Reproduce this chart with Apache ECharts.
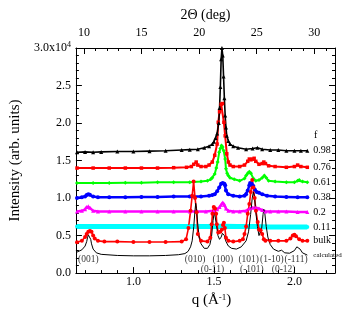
<!DOCTYPE html>
<html><head><meta charset="utf-8">
<script src="https://cdn.jsdelivr.net/npm/echarts@6/dist/echarts.min.js"></script>
<style>html,body{margin:0;padding:0;background:#fff}#c{width:346px;height:313px}</style>
</head><body><div id="c"></div>
<script>
// ---- tick values ----
const qMajor = [1.0, 1.5, 2.0];
const qMinor = [0.7,0.8,0.9,1.1,1.2,1.3,1.4,1.6,1.7,1.8,1.9,2.1,2.2];
const degMajor = [10, 15, 20, 25, 30];
const degMinor = [11,12,13,14,16,17,18,19,21,22,23,24,26,27,28,29,31];

// ---- f = 0.98 ----
const q098 = [0.65,0.70,0.75,0.80,0.90,1.00,1.10,1.20,1.30,1.35,1.40,1.44,1.47,1.49,1.50,1.51,1.52,1.53,1.535,1.54,1.545,1.55,1.555,1.56,1.565,1.57,1.575,1.58,1.59,1.60,1.62,1.65,1.70,1.74,1.77,1.80,1.85,1.90,1.95,2.00,2.04,2.08];
const i098 = [1.61,1.615,1.61,1.615,1.62,1.62,1.625,1.63,1.64,1.645,1.65,1.67,1.69,1.72,1.75,1.80,1.86,2.00,2.20,2.48,2.85,3.00,2.90,2.62,2.33,2.10,1.94,1.83,1.76,1.72,1.69,1.67,1.65,1.66,1.67,1.65,1.64,1.64,1.63,1.63,1.63,1.63];
// ---- f = 0.76 ----
const q076 = [0.65,0.75,0.85,0.95,1.05,1.15,1.25,1.33,1.36,1.375,1.39,1.40,1.42,1.45,1.47,1.49,1.505,1.52,1.527,1.535,1.545,1.553,1.562,1.57,1.58,1.59,1.60,1.62,1.66,1.69,1.71,1.72,1.73,1.74,1.75,1.76,1.78,1.80,1.81,1.82,1.84,1.88,1.95,2.00,2.02,2.04,2.08];
const i076 = [1.40,1.40,1.40,1.40,1.40,1.40,1.405,1.41,1.42,1.45,1.48,1.44,1.42,1.42,1.44,1.48,1.57,1.72,2.01,2.15,2.25,2.26,2.01,1.83,1.59,1.48,1.44,1.42,1.42,1.44,1.49,1.52,1.51,1.52,1.53,1.49,1.45,1.46,1.48,1.46,1.43,1.42,1.41,1.42,1.44,1.42,1.41];
// ---- f = 0.61 ----
const q061 = [0.65,0.75,0.85,0.95,1.05,1.15,1.25,1.35,1.42,1.46,1.48,1.49,1.505,1.515,1.523,1.533,1.54,1.547,1.554,1.561,1.57,1.575,1.582,1.589,1.60,1.626,1.66,1.69,1.70,1.71,1.72,1.73,1.745,1.76,1.78,1.80,1.813,1.825,1.84,1.88,1.95,2.00,2.02,2.03,2.05,2.08];
const i061 = [1.20,1.20,1.20,1.205,1.205,1.21,1.21,1.21,1.22,1.23,1.25,1.27,1.32,1.40,1.48,1.61,1.66,1.70,1.68,1.63,1.52,1.39,1.33,1.30,1.27,1.25,1.23,1.26,1.30,1.33,1.35,1.33,1.26,1.23,1.24,1.27,1.30,1.27,1.23,1.22,1.21,1.21,1.23,1.24,1.22,1.21];
// ---- f = 0.38 ----
const q038 = [0.65,0.68,0.70,0.71,0.72,0.73,0.75,0.78,0.85,0.95,1.05,1.15,1.25,1.35,1.42,1.47,1.49,1.505,1.52,1.533,1.545,1.555,1.565,1.57,1.575,1.589,1.62,1.66,1.69,1.70,1.71,1.72,1.725,1.735,1.745,1.755,1.766,1.78,1.80,1.83,1.88,1.95,2.02,2.08];
const i038 = [1.00,1.01,1.02,1.04,1.05,1.045,1.02,1.01,1.01,1.01,1.015,1.015,1.02,1.02,1.02,1.03,1.04,1.05,1.09,1.14,1.19,1.20,1.19,1.17,1.10,1.05,1.03,1.02,1.03,1.05,1.10,1.17,1.20,1.19,1.16,1.11,1.08,1.07,1.05,1.03,1.02,1.015,1.01,1.01];
// ---- f = 0.2 ----
const q020 = [0.65,0.68,0.70,0.71,0.72,0.73,0.75,0.78,0.85,0.95,1.05,1.15,1.25,1.35,1.45,1.50,1.52,1.535,1.545,1.555,1.565,1.575,1.59,1.62,1.66,1.70,1.72,1.74,1.76,1.78,1.80,1.82,1.85,1.90,1.95,2.02,2.08];
const i020 = [0.82,0.83,0.85,0.88,0.89,0.87,0.83,0.82,0.82,0.82,0.82,0.82,0.82,0.82,0.82,0.83,0.85,0.88,0.91,0.94,0.91,0.86,0.83,0.82,0.82,0.83,0.86,0.87,0.87,0.86,0.84,0.82,0.82,0.82,0.82,0.815,0.815];
// ---- f = 0.11 ----
const q011 = [0.65,0.75,0.85,0.95,1.05,1.15,1.25,1.35,1.45,1.55,1.65,1.75,1.85,1.95,2.08];
const i011 = [0.62,0.62,0.62,0.62,0.62,0.62,0.62,0.62,0.62,0.625,0.62,0.62,0.615,0.615,0.615];
// ---- bulk ----
const qBulk = [0.65,0.68,0.70,0.71,0.72,0.73,0.74,0.75,0.76,0.78,0.82,0.90,1.00,1.10,1.20,1.30,1.327,1.342,1.355,1.365,1.374,1.383,1.393,1.40,1.42,1.46,1.478,1.486,1.491,1.499,1.507,1.514,1.518,1.527,1.54,1.55,1.556,1.562,1.568,1.575,1.59,1.62,1.66,1.68,1.69,1.70,1.71,1.72,1.729,1.738,1.745,1.753,1.761,1.772,1.78,1.79,1.80,1.81,1.82,1.85,1.90,1.95,1.975,1.99,2.00,2.01,2.03,2.05,2.08];
const iBulk = [0.41,0.43,0.48,0.52,0.55,0.56,0.55,0.50,0.46,0.43,0.42,0.42,0.415,0.415,0.415,0.42,0.45,0.60,0.83,1.03,1.22,1.00,0.81,0.52,0.43,0.42,0.47,0.65,0.79,0.88,0.86,0.79,0.65,0.54,0.55,0.58,0.64,0.67,0.60,0.47,0.43,0.42,0.43,0.45,0.52,0.62,0.79,0.92,1.08,1.24,1.14,1.00,0.83,0.68,0.58,0.57,0.52,0.45,0.43,0.43,0.43,0.43,0.46,0.50,0.51,0.49,0.45,0.43,0.43];
// ---- calculated ----
const qCalc = [0.65,0.68,0.70,0.71,0.715,0.72,0.725,0.73,0.735,0.74,0.75,0.77,0.80,0.90,1.00,1.10,1.20,1.28,1.32,1.34,1.355,1.365,1.375,1.382,1.387,1.392,1.40,1.41,1.42,1.44,1.46,1.475,1.485,1.495,1.502,1.508,1.515,1.525,1.535,1.545,1.553,1.558,1.565,1.575,1.59,1.61,1.64,1.67,1.70,1.715,1.728,1.738,1.745,1.752,1.76,1.77,1.78,1.788,1.797,1.805,1.81,1.816,1.825,1.835,1.85,1.87,1.90,1.92,1.94,1.97,2.00,2.015,2.023,2.035,2.05,2.08];
const iCalc = [0.28,0.31,0.36,0.42,0.47,0.51,0.52,0.50,0.45,0.39,0.32,0.27,0.25,0.235,0.23,0.23,0.235,0.245,0.26,0.29,0.35,0.43,0.62,0.82,0.93,0.86,0.64,0.46,0.39,0.33,0.33,0.38,0.48,0.70,0.82,0.81,0.66,0.50,0.45,0.48,0.53,0.54,0.50,0.42,0.36,0.33,0.32,0.35,0.43,0.55,0.78,1.00,1.08,1.02,0.82,0.62,0.50,0.49,0.60,0.78,0.85,0.80,0.62,0.48,0.38,0.32,0.29,0.305,0.27,0.265,0.30,0.35,0.36,0.32,0.27,0.24];

// ---- reflection labels ----
const millerNames = ['(001)','(010)','(0-11)','(100)','(101)','(-101)','(1-10)','(0-12)','(-111)'];
const millerQ     = [0.720, 1.383, 1.491, 1.555, 1.716, 1.736, 1.860, 1.933, 2.010];
const millerRow   = [0, 0, 1, 0, 0, 1, 0, 1, 0];
const rowY = [0.185, 0.052];

const F = 'Liberation Serif';
const pairs = (q, v) => q.map((x, k) => [x, v[k]]);

function mk(name, q, v, color, symbol, size, width, lblSize) {
  return {
    type: 'line', name: name, data: pairs(q, v),
    xAxisIndex: 0, yAxisIndex: 0,
    symbol: symbol, symbolSize: size, showSymbol: symbol !== 'none',
    itemStyle: { color: color }, lineStyle: { color: color, width: width },
    endLabel: { show: true, formatter: () => name, color: '#000', fontSize: lblSize || 10, fontFamily: F, distance: 6 },
    silent: true
  };
}

const axisLineS = { show: true, lineStyle: { color: '#000', width: 1 } };
const chart = echarts.init(document.getElementById('c'), null, { renderer: 'canvas' });
chart.setOption({
  animation: false,
  backgroundColor: '#fff',
  grid: { left: 48, right: 11, top: 48, bottom: 39, containLabel: false },
  xAxis: [
    { type: 'value', position: 'bottom', min: 0.643, max: 2.252,
      axisLine: axisLineS, splitLine: { show: false },
      axisTick: { show: true, inside: true, length: 6, customValues: qMajor, lineStyle: { color: '#000' } },
      axisLabel: { customValues: qMajor, formatter: v => v.toFixed(1), fontFamily: F, fontSize: 12, color: '#000', margin: 3 },
      name: 'q (Å{s|-1})', nameLocation: 'middle', nameGap: 14,
      nameTextStyle: { fontFamily: F, fontSize: 15, color: '#000', padding: [0, 0, 0, 12],
        rich: { s: { fontFamily: F, fontSize: 9, color: '#000', verticalAlign: 'top' } } } },
    { type: 'value', position: 'bottom', min: 0.643, max: 2.252,
      axisLine: { show: false }, splitLine: { show: false },
      axisTick: { show: true, inside: true, length: 3, customValues: qMinor, lineStyle: { color: '#000' } },
      axisLabel: { show: false } },
    { type: 'value', position: 'top', min: 9.294, max: 31.80,
      axisLine: axisLineS, splitLine: { show: false },
      axisTick: { show: true, inside: true, length: 6, customValues: degMajor, lineStyle: { color: '#000' } },
      axisLabel: { customValues: degMajor, fontFamily: F, fontSize: 12, color: '#000', margin: 9 },
      name: '2Θ (deg)', nameLocation: 'middle', nameGap: 23,
      nameTextStyle: { fontFamily: F, fontSize: 14, color: '#000' } },
    { type: 'value', position: 'top', min: 9.294, max: 31.80,
      axisLine: { show: false }, splitLine: { show: false },
      axisTick: { show: true, inside: true, length: 3, customValues: degMinor, lineStyle: { color: '#000' } },
      axisLabel: { show: false } }
  ],
  yAxis: [
    { type: 'value', position: 'left', min: 0, max: 3.0, interval: 0.5,
      axisLine: axisLineS, splitLine: { show: false },
      axisTick: { show: true, inside: true, length: 6, lineStyle: { color: '#000' } },
      minorTick: { show: true, splitNumber: 5, length: 3, lineStyle: { color: '#000' } },
      axisLabel: { fontFamily: F, fontSize: 12, color: '#000', margin: 5,
        formatter: v => v === 3 ? '{b|3.0x10}{s|4}' : v.toFixed(1),
        rich: { b: { fontFamily: F, fontSize: 12, color: '#000', lineHeight: 14 },
                s: { fontFamily: F, fontSize: 8, color: '#000', verticalAlign: 'top' } } },
      name: 'Intensity (arb. units)', nameLocation: 'middle', nameGap: 21,
      nameTextStyle: { fontFamily: F, fontSize: 15, color: '#000' } },
    { type: 'value', position: 'right', min: 0, max: 3.0, interval: 0.5,
      axisLine: axisLineS, splitLine: { show: false },
      axisTick: { show: true, inside: true, length: 6, lineStyle: { color: '#000' } },
      minorTick: { show: true, splitNumber: 5, length: 3, lineStyle: { color: '#000' } },
      axisLabel: { show: false } }
  ],
  graphic: [
    { type: 'text', left: 314, top: 130, style: { text: 'f', font: '10px "Liberation Serif"', fill: '#000' } }
  ],
  series: [
    mk('0.11', q011, i011, '#00ffff', 'circle', 4, 5),
    mk('0.2', q020, i020, '#ff00ff', 'triangle', 4, 2.5),
    mk('0.38', q038, i038, '#0000ff', 'circle', 4, 2.5),
    mk('0.61', q061, i061, '#00ff00', 'diamond', 4, 2),
    mk('0.76', q076, i076, '#ff0000', 'rect', 3.5, 2),
    mk('0.98', q098, i098, '#000000', 'triangle', 4, 1.6),
    mk('bulk', qBulk, iBulk, '#ff0000', 'circle', 4, 1.6),
    mk('calculated', qCalc, iCalc, '#000000', 'none', 0, 1, 7),
    { type: 'scatter', xAxisIndex: 0, yAxisIndex: 0, silent: true,
      symbolSize: 0.1, itemStyle: { color: 'rgba(0,0,0,0)' },
      data: millerNames.map((t, k) => ({ value: [millerQ[k], rowY[millerRow[k]]], label: { formatter: t } })),
      label: { show: true, position: 'inside', fontFamily: F, fontSize: 9.5, color: '#000' } }
  ]
});
</script></body></html>
